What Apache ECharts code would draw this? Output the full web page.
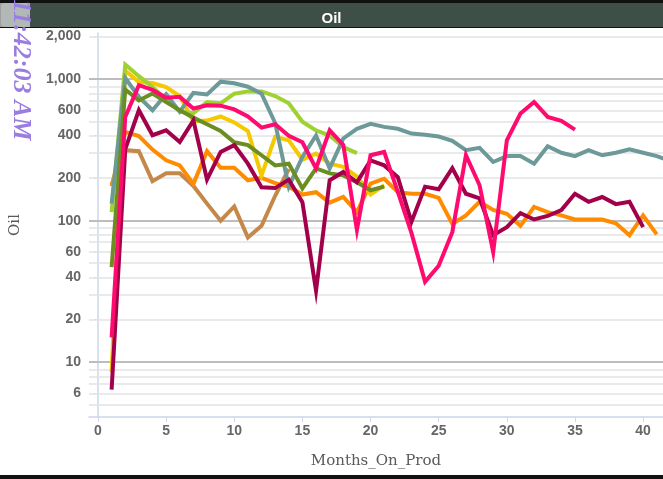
<!DOCTYPE html>
<html>
<head>
<meta charset="utf-8">
<script src="https://cdn.jsdelivr.net/npm/echarts@6/dist/echarts.min.js"></script>
<style>
  html, body { margin: 0; padding: 0; background: #ffffff; }
  #chart { width: 663px; height: 479px; }
</style>
</head>
<body>
<div id="chart"></div>
<script>
// Monthly oil rate per well, month 1 onward (null = no production reported)
const wellBrown  = [180, 315, 310, 190, 216, 216, 176, 132, 100, 126, 76, 92, 150, 232];
const wellOrange = [175, 424, 396, 318, 267, 246, 182, 310, 237, 237, 193, 201, 184, 174, 153, 159, 134, 147, 115, 183,
                    198, 159, 155, 155, 145, 95, 109, 136, 119, 112, 92, 125, 115, 109, 102, 102, 102, 96, 79, 109, 80];
const wellYellow = [8.5, 1150, 955, 940, 880, 760, 505, 510, 545, 495, 430, 209, 391, 370, 270, 298, 253, 240, 205, 153, 178];
const wellLime   = [115, 1270, 1050, 880, 720, 590, 575, 690, 675, 790, 820, 820, 760, 675, 500, 435, 400, 331, 300];
const wellTeal   = [132, 1020, 750, 603, 785, 590, 800, 780, 960, 935, 885, 790, 490, 174, 282, 400, 234, 381, 446, 484,
                    460, 446, 413, 405, 393, 367, 315, 327, 260, 286, 286, 253, 336, 302, 286, 315, 290, 302, 320, 302, 286, 265];
const wellOlive  = [47, 845, 707, 792, 690, 603, 535, 480, 430, 358, 342, 290, 246, 253, 169, 234, 216, 209, 187, 164, 174];
const wellMaroon = [6.4, 320, 603, 402, 435, 360, 512, 195, 306, 342, 253, 172, 170, 195, 135, 32, 193, 221, 187, 267,
                    246, 203, 98, 174, 167, 235, 155, 144, 79, 90, 113, 102, 108, 119, 155, 136, 147, 131, 136, 90];
const wellPink   = [15, 540, 907, 840, 740, 750, 620, 655, 650, 612, 545, 455, 480, 398, 358, 234, 435, 343, 86, 290,
                    306, 160, 82, 37, 48, 83, 290, 178, 60, 370, 572, 690, 541, 507, 440];

const xTicks = [0, 5, 10, 15, 20, 25, 30, 35, 40];
const yTicks = [6, 10, 20, 40, 60, 100, 200, 400, 600, 1000, 2000];
const minorRates = [5, 6, 7, 8, 9, 20, 30, 40, 50, 60, 70, 80, 90, 200, 300, 400, 500, 600, 700, 800, 900, 2000];
const decadeRates = [10, 100, 1000];

const Y_MIN = 4.1, Y_MAX = 2120;
const lg = Math.log10;

// month index -> [month, log10(rate)] so the value axis behaves as a log axis
function toPoints(rates) {
  return rates.map((r, i) => (r == null ? [i + 1, null] : [i + 1, lg(r)]));
}

function wellSeries(name, rates, color, extra) {
  return Object.assign({
    name: name,
    type: 'line',
    data: toPoints(rates),
    showSymbol: false,
    symbol: 'none',
    connectNulls: false,
    lineStyle: { width: 4, color: color, join: 'miter' },
    itemStyle: { color: color },
    emphasis: { disabled: true },
    animation: false
  }, extra || {});
}

const gridLines = minorRates.map(v => ({ yAxis: lg(v), lineStyle: { color: '#e3e3e3', width: 1.5, type: 'solid' } }))
  .concat(decadeRates.map(v => ({ yAxis: lg(v), lineStyle: { color: '#bdbdbd', width: 2, type: 'solid' } })));

const chart = echarts.init(document.getElementById('chart'), null, { renderer: 'canvas' });

chart.setOption({
  animation: false,
  backgroundColor: '#ffffff',
  title: {
    text: 'Oil',
    left: 'center',
    top: 6,
    z: 20,
    textStyle: { color: '#ffffff', fontFamily: 'Liberation Sans, Arial, sans-serif', fontWeight: 'bold', fontSize: 15 }
  },
  grid: { left: 87, right: 0, top: 33, bottom: 62, containLabel: false },
  xAxis: {
    type: 'value',
    min: -0.66,
    max: 41.46,
    name: 'Months_On_Prod',
    nameLocation: 'middle',
    nameGap: 37,
    nameTextStyle: { fontFamily: 'DejaVu Serif, serif', fontSize: 15, color: '#5a5a5a' },
    axisLine: { show: true, lineStyle: { color: '#ccd6eb', width: 1.5 } },
    axisTick: { show: true, customValues: xTicks, length: 5, lineStyle: { color: '#ccd6eb' } },
    axisLabel: {
      customValues: xTicks,
      margin: 7,
      fontFamily: 'Liberation Sans, Arial, sans-serif',
      fontWeight: 'bold',
      fontSize: 14,
      color: '#666666'
    },
    splitLine: { show: false }
  },
  yAxis: {
    type: 'value',
    min: lg(Y_MIN),
    max: lg(Y_MAX),
    name: 'Oil',
    nameLocation: 'middle',
    nameRotate: 90,
    nameGap: 66,
    nameTextStyle: { fontFamily: 'DejaVu Serif, serif', fontSize: 15, color: '#5a5a5a' },
    axisLine: { show: true, lineStyle: { color: '#ccd6eb', width: 1.5 } },
    axisTick: { show: true, customValues: yTicks.map(lg), length: 4, lineStyle: { color: '#ccd6eb' } },
    axisLabel: {
      customValues: yTicks.map(lg),
      margin: 8,
      fontFamily: 'Liberation Sans, Arial, sans-serif',
      fontWeight: 'bold',
      fontSize: 14,
      color: '#666666',
      formatter: v => Math.round(Math.pow(10, v)).toLocaleString('en-US')
    },
    splitLine: { show: false }
  },
  series: [
    wellSeries('Well A', wellBrown, '#c4884a', {
      markLine: { silent: true, symbol: 'none', label: { show: false }, animation: false, z: 1, data: gridLines }
    }),
    wellSeries('Well B', wellOrange, '#ff8c00'),
    wellSeries('Well C', wellYellow, '#f5c800'),
    wellSeries('Well D', wellLime, '#9fd130'),
    wellSeries('Well E', wellTeal, '#6d9999'),
    wellSeries('Well F', wellOlive, '#6b8e23'),
    wellSeries('Well G', wellMaroon, '#a3004b'),
    wellSeries('Well H', wellPink, '#ff0a6e')
  ],
  graphic: [
    { type: 'rect', shape: { x: 0, y: 0, width: 663, height: 28 }, style: { fill: '#111111' }, z: 1, silent: true },
    { type: 'rect', shape: { x: 1, y: 3, width: 680, height: 24, r: 4 }, style: { fill: '#3e4f47' }, z: 2, silent: true },
    { type: 'rect', shape: { x: 0, y: 3, width: 30, height: 24 }, style: { fill: 'rgba(255,255,255,0.6)' }, z: 3, silent: true },
    { type: 'rect', shape: { x: 0, y: 475, width: 663, height: 4 }, style: { fill: '#111111' }, z: 1, silent: true },
    {
      type: 'text',
      x: 21,
      y: 70,
      rotation: -Math.PI / 2,
      z: 50,
      silent: true,
      style: {
        text: '11:42:03 AM',
        fill: '#9a7de0',
        font: 'italic bold 26px "Liberation Serif", "Times New Roman", serif',
        align: 'center',
        verticalAlign: 'middle'
      }
    }
  ]
});
</script>
</body>
</html>
